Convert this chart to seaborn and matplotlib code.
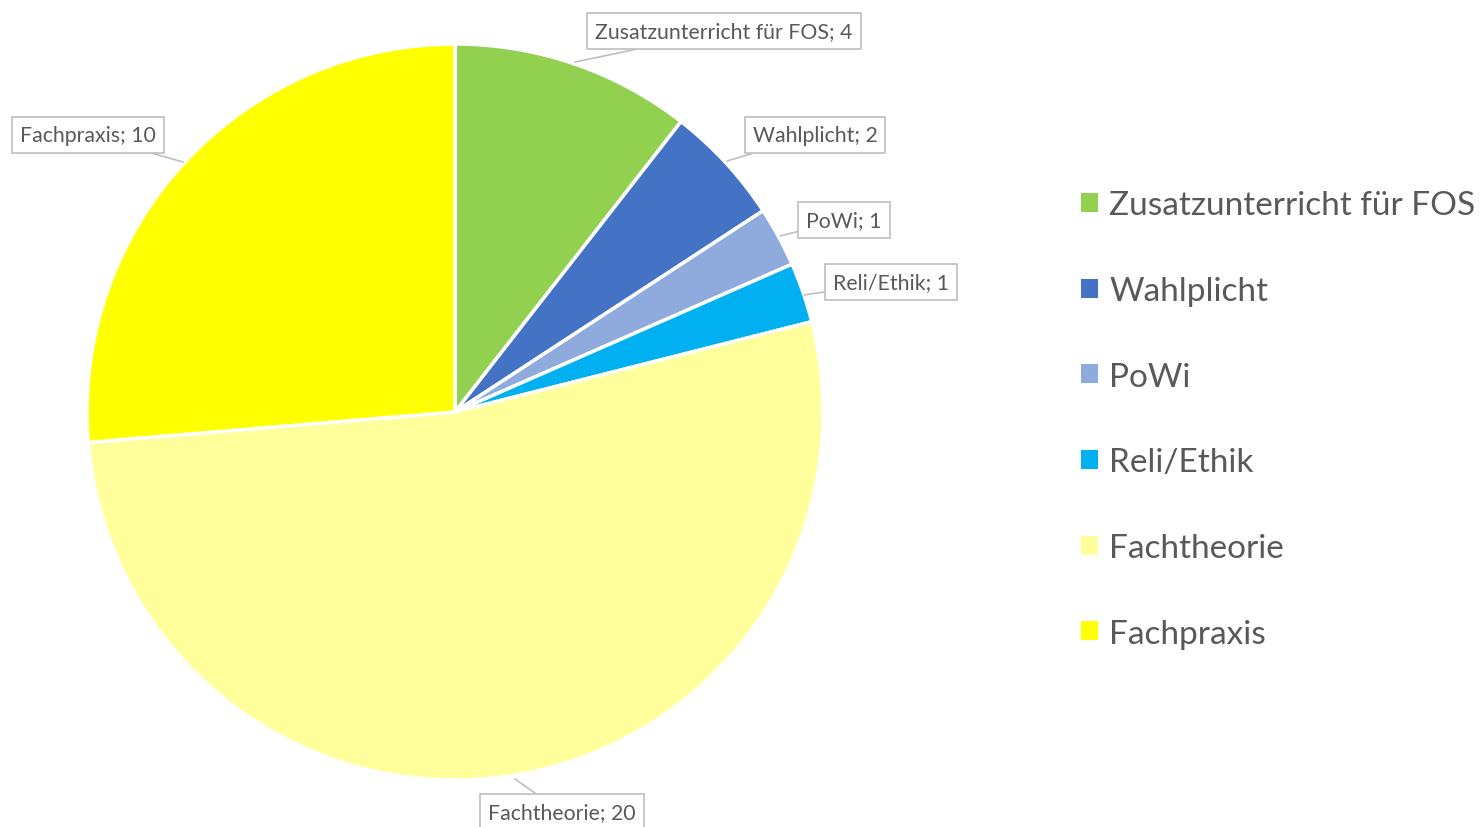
import matplotlib
matplotlib.use("Agg")
import matplotlib.pyplot as plt
import seaborn as sns
from matplotlib.patches import Patch

# data
categories = ["Zusatzunterricht für FOS", "Wahlplicht", "PoWi", "Reli/Ethik", "Fachtheorie", "Fachpraxis"]
values = [4, 2, 1, 1, 20, 10]
colors = ["#92D050", "#4472C4", "#8FAADC", "#00B0F0", "#FFFF9B", "#FFFF00"]

# label box centers and leader ends (pixels in the 1481x828 picture)
label_pos = [(724, 32), (815, 136), (844, 221), (891, 283), (562, 813), (88, 136)]
leader_end = [(575, 63), (727, 162), (780, 237), (804, 296), (515, 780), (183, 163)]

sns.set_theme(style="white")
plt.rcParams['font.family'] = ['Lato', 'DejaVu Sans']

W, H = 1481, 828
fig = plt.figure(figsize=(W / 100, H / 100), dpi=100)
cx, cy, r = 455, 413, 368
ax = fig.add_axes([(cx - r) / W, (H - cy - r) / H, 2 * r / W, 2 * r / H])

ax.pie(values, colors=colors, startangle=90, counterclock=False, radius=1,
       wedgeprops=dict(edgecolor="white", linewidth=2.5))
ax.set_xlim(-1, 1)
ax.set_ylim(-1, 1)
ax.axis("off")

def to_data(p):
    return ((p[0] - cx) / r, (cy - p[1]) / r)

txt_color = "#595959"
for cat, v, lp, le in zip(categories, values, label_pos, leader_end):
    ax.annotate(f"{cat}; {v}", xy=to_data(le), xytext=to_data(lp),
                ha="center", va="center", fontsize=15.3, color=txt_color,
                annotation_clip=False,
                bbox=dict(boxstyle="square,pad=0.38", fc="white", ec="#BFBFBF", lw=1.2),
                arrowprops=dict(arrowstyle="-", color="#BFBFBF", lw=1.2,
                                shrinkA=0, shrinkB=0))

handles = [Patch(facecolor=c, edgecolor="none") for c in colors]
fig.legend(handles, categories, loc="upper left", bbox_to_anchor=(1068 / W, 1 - 178 / H),
           frameon=False, fontsize=24, labelcolor=txt_color,
           handlelength=0.5, handleheight=0.5, handletextpad=0.33, labelspacing=1.67,
           borderaxespad=0)

fig.savefig("out.png", dpi=100, facecolor="white")
